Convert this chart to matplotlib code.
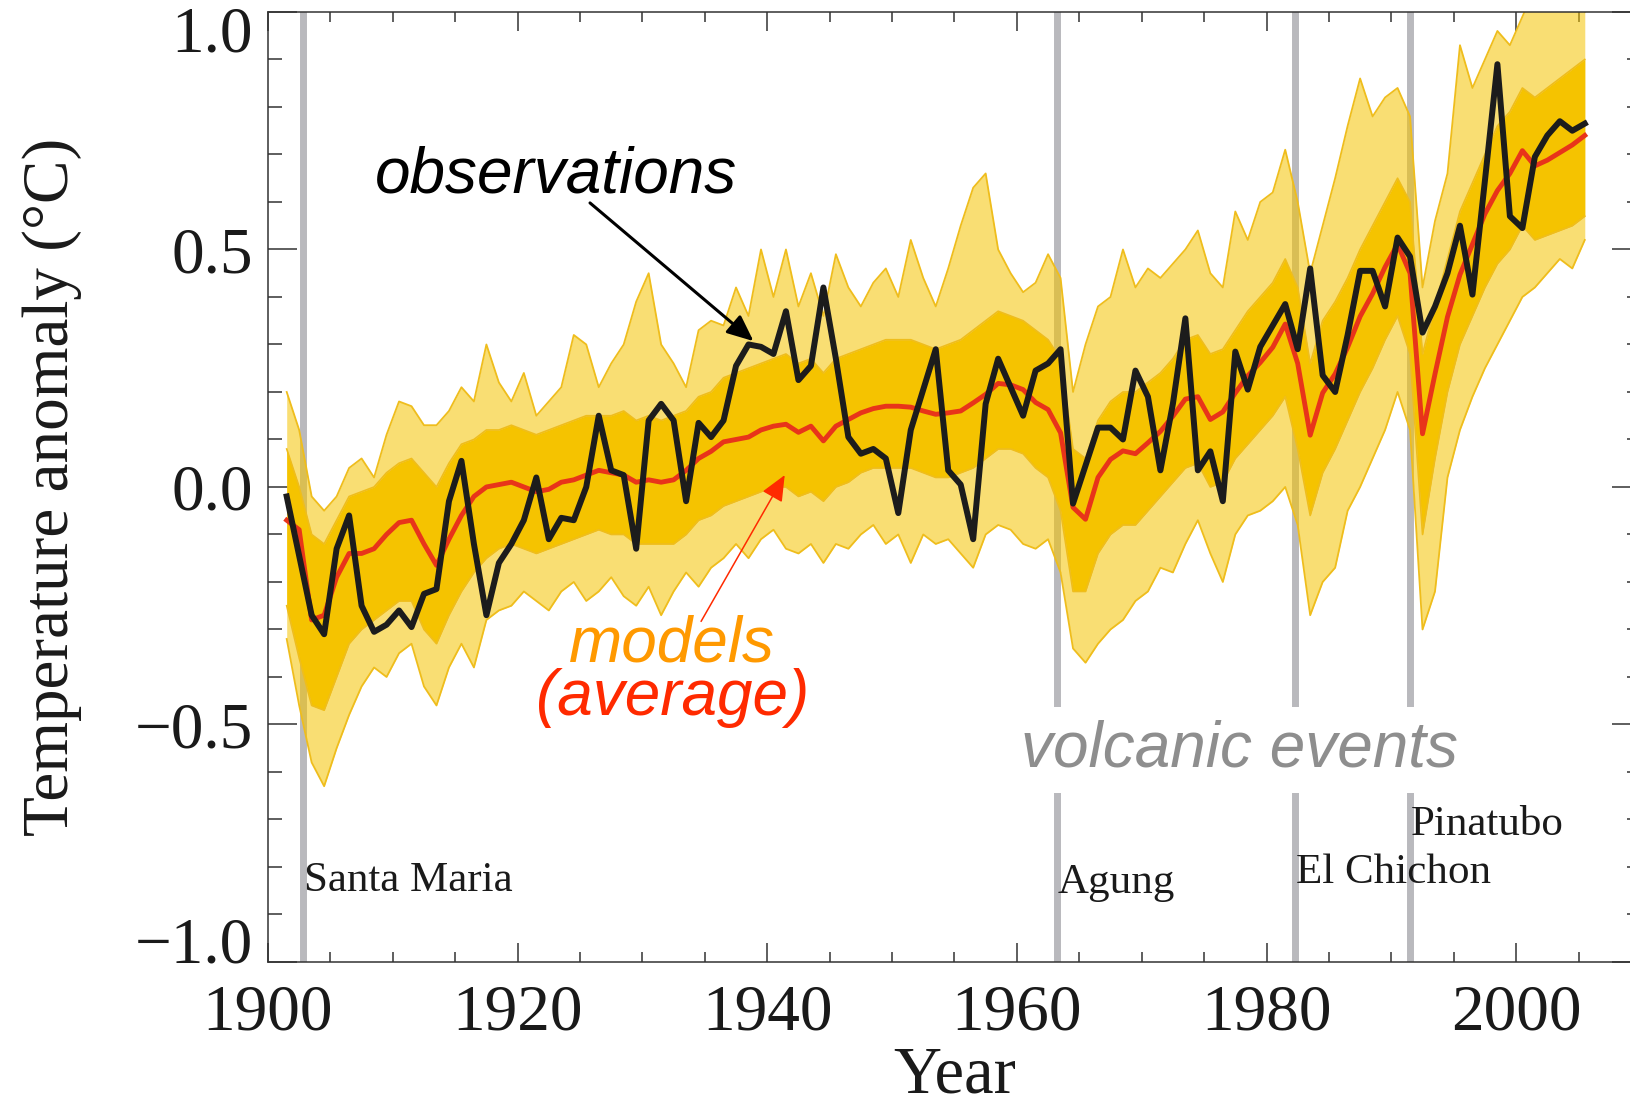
import numpy as np
import matplotlib.pyplot as plt
from matplotlib.ticker import MultipleLocator

# annual values 1901-2005, anomalies in deg C
years = np.arange(1901, 2006)

observed = [
    -0.02, -0.145, -0.27, -0.31, -0.13, -0.06, -0.25, -0.305, -0.29, -0.26,
    -0.295, -0.225, -0.215, -0.03, 0.055, -0.12, -0.27, -0.16, -0.12, -0.07,
    0.02, -0.11, -0.065, -0.07, 0.00, 0.15, 0.035, 0.025, -0.13, 0.14,
    0.175, 0.14, -0.03, 0.135, 0.105, 0.14, 0.255, 0.30, 0.295, 0.28,
    0.37, 0.225, 0.255, 0.42, 0.27, 0.105, 0.07, 0.08, 0.06, -0.055,
    0.12, 0.205, 0.29, 0.035, 0.005, -0.11, 0.175, 0.27, 0.21, 0.15,
    0.245, 0.26, 0.29, -0.035, 0.045, 0.125, 0.125, 0.10, 0.245, 0.19,
    0.035, 0.175, 0.355, 0.035, 0.075, -0.03, 0.285, 0.205, 0.295, 0.34,
    0.385, 0.29, 0.46, 0.235, 0.20, 0.32, 0.455, 0.455, 0.38, 0.525,
    0.485, 0.325, 0.38, 0.45, 0.55, 0.405, 0.645, 0.89, 0.57, 0.545,
    0.695, 0.74, 0.77, 0.75, 0.765,
]

model_mean = [
    -0.07, -0.09, -0.28, -0.27, -0.19, -0.14, -0.14, -0.13, -0.10, -0.075,
    -0.07, -0.12, -0.165, -0.11, -0.06, -0.02, 0.00, 0.005, 0.01, 0.00,
    -0.01, -0.005, 0.01, 0.015, 0.025, 0.035, 0.03, 0.025, 0.01, 0.015,
    0.01, 0.015, 0.035, 0.06, 0.075, 0.095, 0.10, 0.105, 0.12, 0.128,
    0.132, 0.115, 0.128, 0.097, 0.128, 0.142, 0.156, 0.165, 0.17, 0.17,
    0.168, 0.16, 0.153, 0.156, 0.16, 0.177, 0.195, 0.218, 0.215, 0.205,
    0.178, 0.163, 0.114, -0.043, -0.068, 0.02, 0.058, 0.076, 0.07, 0.093,
    0.117, 0.149, 0.185, 0.19, 0.142, 0.158, 0.198, 0.234, 0.262, 0.294,
    0.343, 0.26, 0.109, 0.198, 0.238, 0.294, 0.359, 0.407, 0.463, 0.511,
    0.45, 0.112, 0.238, 0.358, 0.447, 0.511, 0.575, 0.624, 0.66, 0.708,
    0.676, 0.688, 0.704, 0.72, 0.74,
]

# outer spread of the individual simulations
model_hi = [
    0.20, 0.12, -0.02, -0.05, -0.02, 0.04, 0.06, 0.02, 0.11, 0.18,
    0.17, 0.13, 0.13, 0.16, 0.21, 0.18, 0.30, 0.22, 0.18, 0.24,
    0.15, 0.18, 0.21, 0.32, 0.30, 0.21, 0.26, 0.30, 0.39, 0.45,
    0.30, 0.26, 0.21, 0.33, 0.35, 0.34, 0.42, 0.36, 0.50, 0.40,
    0.50, 0.38, 0.45, 0.36, 0.49, 0.42, 0.38, 0.43, 0.46, 0.40,
    0.52, 0.44, 0.38, 0.46, 0.55, 0.63, 0.66, 0.50, 0.45, 0.41,
    0.43, 0.49, 0.44, 0.20, 0.30, 0.38, 0.40, 0.50, 0.42, 0.46,
    0.44, 0.47, 0.50, 0.54, 0.45, 0.42, 0.58, 0.52, 0.60, 0.62,
    0.71, 0.60, 0.45, 0.55, 0.65, 0.76, 0.86, 0.78, 0.82, 0.84,
    0.78, 0.42, 0.56, 0.66, 0.93, 0.84, 0.90, 0.96, 0.93, 0.99,
    1.05, 1.08, 1.05, 1.03, 1.00,
]

model_lo = [
    -0.32, -0.46, -0.58, -0.63, -0.55, -0.48, -0.42, -0.38, -0.40, -0.35,
    -0.33, -0.42, -0.46, -0.38, -0.33, -0.38, -0.28, -0.26, -0.25, -0.22,
    -0.24, -0.26, -0.22, -0.20, -0.24, -0.22, -0.19, -0.23, -0.25, -0.21,
    -0.27, -0.22, -0.18, -0.21, -0.17, -0.15, -0.12, -0.15, -0.11, -0.09,
    -0.13, -0.14, -0.12, -0.16, -0.12, -0.13, -0.10, -0.08, -0.12, -0.10,
    -0.16, -0.10, -0.12, -0.11, -0.14, -0.17, -0.10, -0.08, -0.09, -0.12,
    -0.13, -0.11, -0.18, -0.34, -0.37, -0.33, -0.30, -0.28, -0.24, -0.22,
    -0.17, -0.18, -0.12, -0.07, -0.14, -0.20, -0.10, -0.06, -0.05, -0.03,
    0.00, -0.08, -0.27, -0.20, -0.17, -0.05, 0.00, 0.06, 0.12, 0.20,
    0.12, -0.30, -0.22, 0.02, 0.12, 0.19, 0.25, 0.30, 0.35, 0.40,
    0.42, 0.45, 0.48, 0.46, 0.52,
]

# where most of the simulations sit
core_hi = [
    0.08, 0.00, -0.10, -0.12, -0.07, -0.02, -0.01, 0.00, 0.03, 0.05,
    0.06, 0.03, 0.00, 0.05, 0.09, 0.10, 0.12, 0.12, 0.13, 0.12,
    0.11, 0.12, 0.13, 0.14, 0.15, 0.15, 0.15, 0.16, 0.14, 0.15,
    0.14, 0.15, 0.16, 0.19, 0.20, 0.23, 0.24, 0.25, 0.26, 0.27,
    0.28, 0.26, 0.27, 0.24, 0.27, 0.28, 0.29, 0.30, 0.31, 0.31,
    0.31, 0.30, 0.29, 0.30, 0.31, 0.33, 0.35, 0.37, 0.36, 0.35,
    0.33, 0.31, 0.27, 0.08, 0.06, 0.14, 0.18, 0.20, 0.20, 0.22,
    0.24, 0.27, 0.31, 0.32, 0.28, 0.29, 0.33, 0.37, 0.40, 0.43,
    0.48, 0.42, 0.26, 0.35, 0.39, 0.44, 0.50, 0.55, 0.60, 0.65,
    0.60, 0.28, 0.38, 0.48, 0.58, 0.64, 0.70, 0.76, 0.79, 0.84,
    0.82, 0.84, 0.86, 0.88, 0.90,
]

core_lo = [
    -0.25, -0.36, -0.46, -0.47, -0.40, -0.33, -0.30, -0.28, -0.26, -0.24,
    -0.24, -0.30, -0.33, -0.27, -0.22, -0.18, -0.15, -0.13, -0.12, -0.13,
    -0.14, -0.13, -0.12, -0.11, -0.10, -0.09, -0.10, -0.10, -0.12, -0.12,
    -0.12, -0.12, -0.10, -0.07, -0.06, -0.04, -0.03, -0.02, -0.01, 0.00,
    0.00, -0.02, -0.01, -0.03, 0.00, 0.01, 0.03, 0.04, 0.04, 0.04,
    0.04, 0.03, 0.02, 0.02, 0.03, 0.04, 0.06, 0.08, 0.08, 0.07,
    0.04, 0.02, -0.05, -0.22, -0.22, -0.14, -0.10, -0.08, -0.08, -0.05,
    -0.02, 0.01, 0.04, 0.05, 0.00, 0.01, 0.06, 0.09, 0.12, 0.15,
    0.19, 0.08, -0.06, 0.03, 0.08, 0.14, 0.20, 0.25, 0.31, 0.36,
    0.28, -0.10, 0.06, 0.20, 0.30, 0.36, 0.42, 0.47, 0.50, 0.55,
    0.52, 0.53, 0.54, 0.55, 0.57,
]

volcano_names = ['Santa Maria', 'Agung', 'El Chichon', 'Pinatubo']
eruption_dates = [1902.8, 1963.2, 1982.3, 1991.5]
name_heights = [-0.85, -0.855, -0.834, -0.733]

SERIF = 'Liberation Serif'
SANS = 'Liberation Sans'
YELLOW = '#f5c300'
EDGE = '#efbd1c'
INK = '#1a1a1a'

fig = plt.figure(figsize=(16.31, 11.08), dpi=100)
# the frame runs a little past the right edge of the canvas
ax = fig.add_axes([0.1643, 0.1318, 0.8418, 0.8574])

x = years + 0.5

for yr in eruption_dates:
    ax.axvline(yr, color='#b9b9bd', lw=5, zorder=1)

# model spread: light outer band, solid inner band
ax.fill_between(x, model_lo, model_hi, color=YELLOW, alpha=0.55, lw=0, zorder=2)
ax.plot(x, model_hi, color=EDGE, lw=1.3, zorder=2.1)
ax.plot(x, model_lo, color=EDGE, lw=1.3, zorder=2.1)
ax.fill_between(x, core_lo, core_hi, color=YELLOW, lw=0, zorder=2.2)
ax.plot(x, core_hi, color=EDGE, lw=1.2, zorder=2.3)
ax.plot(x, core_lo, color=EDGE, lw=1.2, zorder=2.3)

ax.plot(x, model_mean, color='#e8341a', lw=3.5, zorder=3)
ax.plot(x, observed, color='#1c1c1c', lw=4.3, zorder=4)

ax.set_xlim(1900, 2010)
ax.set_ylim(-1, 1)
ax.xaxis.set_major_locator(MultipleLocator(20))
ax.xaxis.set_minor_locator(MultipleLocator(5))
ax.set_yticks([-1, -0.5, 0, 0.5, 1], ['', '\u22120.5', '0.0', '0.5', ''])
ax.yaxis.set_minor_locator(MultipleLocator(0.1))

for s in ax.spines.values():
    s.set_color('#333333')
    s.set_linewidth(1.1)
ax.tick_params(which='both', direction='in', top=True, right=True,
               color='#333333', width=1.1)
ax.tick_params(axis='x', which='major', length=14, pad=16)
ax.tick_params(axis='x', which='minor', length=7)
ax.tick_params(axis='y', which='major', length=21, pad=11)
ax.tick_params(axis='y', which='minor', length=10)
for lab in ax.get_xticklabels() + ax.get_yticklabels():
    lab.set_fontfamily(SERIF)
    lab.set_fontsize(47)
    lab.set_color(INK)

# end labels of the y axis sit inside the frame
for txt, yv in [('1.0', 0.949), ('\u22121.0', -0.9676)]:
    ax.text(-0.0109, yv, txt, transform=ax.get_yaxis_transform(),
            ha='right', va='center', fontsize=47, family=SERIF, color=INK)

ax.set_xlabel('Year', fontsize=48, family=SERIF, color=INK)
ax.xaxis.set_label_coords(0.5, -0.088)
ax.set_ylabel('Temperature anomaly (\u00b0C)', fontsize=47, family=SERIF, color=INK)
ax.yaxis.set_label_coords(-0.1355, 0.5)

for name, yr, yv in zip(volcano_names, eruption_dates, name_heights):
    ax.text(yr + 0.05, yv, name, fontsize=31, family=SERIF, color=INK,
            ha='left', va='baseline', zorder=5)

ax.text(1977.85, -0.589, 'volcanic events', fontsize=46, family=SANS, style='italic',
        color='#8e8e8e', ha='center', va='baseline', zorder=5,
        bbox=dict(fc='white', ec='none', pad=9))

ax.text(1923.1, 0.619, 'observations', fontsize=46, family=SANS, style='italic',
        color='black', ha='center', va='baseline', zorder=6)
ax.annotate('', xy=(1938.9, 0.307), xytext=(1925.8, 0.598),
            arrowprops=dict(arrowstyle='-|>,head_length=0.8,head_width=0.35',
                            color='black', lw=2.2, mutation_scale=20,
                            shrinkA=0, shrinkB=0), zorder=6)

ax.text(1932.4, -0.368, 'models', fontsize=46, family=SANS, style='italic',
        color='#ff9900', ha='center', va='baseline', zorder=6)
ax.text(1932.45, -0.48, '(average)', fontsize=46, family=SANS, style='italic',
        color='#ff2a00', ha='center', va='baseline', zorder=6)
ax.annotate('', xy=(1941.4, 0.025), xytext=(1934.7, -0.283),
            arrowprops=dict(arrowstyle='-|>,head_length=0.8,head_width=0.35',
                            color='#ff2a00', lw=1.1, mutation_scale=20,
                            shrinkA=0, shrinkB=0), zorder=6)

fig.savefig('out.png', dpi=100, facecolor='white')
